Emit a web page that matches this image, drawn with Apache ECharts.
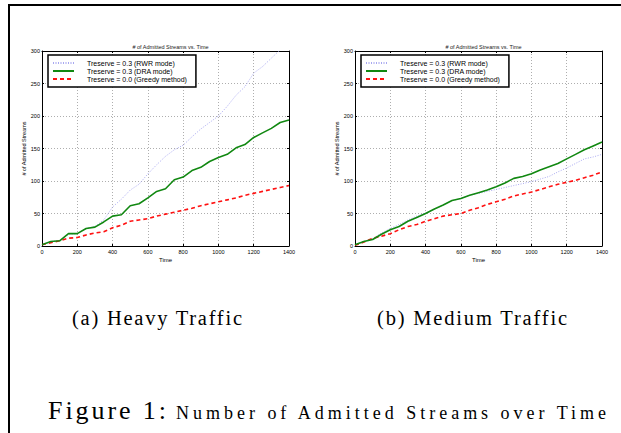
<!DOCTYPE html>
<html><head><meta charset="utf-8">
<script src="https://cdn.jsdelivr.net/npm/echarts@6/dist/echarts.min.js"></script>
<style>
html,body{margin:0;padding:0;background:#fff}
#wrap{position:relative;width:621px;height:433px;overflow:hidden}
#c{position:absolute;left:0;top:0;width:621px;height:433px}
.cap{position:absolute;white-space:nowrap;font-family:"Liberation Serif",serif;color:#000;line-height:1}
</style>
</head><body><div id="wrap"><div id="c"></div></div>
<script>
const times = [0,50,100,150,200,250,300,350,400,450,500,550,600,650,700,750,800,850,900,950,1000,1050,1100,1150,1200,1250,1300,1350,1400];
const seriesNames = ['Treserve = 0.3 (RWR mode)','Treserve = 0.3 (DRA mode)','Treserve = 0.0 (Greedy method)'];
const heavyRWR    = [2,7,8,18,19,27,30,40,60,72,86,95,111,125,138,148,155,168,180,190,200,215,232,245,266,276,289,302,314];
const heavyDRA    = [2,7,8,19,19,27,29,37,46,48,62,65,74,84,88,102,106,116,121,130,136,141,151,156,167,174,181,190,194];
const heavyGreedy = [2,5,8,12,13,17,20,22,28,32,38,40,42,46,49,52,55,58,62,65,68,71,74,78,81,84,87,90,93];
const medRWR      = [2,7,11,20,27,33,40,46,51,57,63,70,73,78,81,84,87,90,93,96,99,103,107,114,120,127,134,137,141];
const medDRA      = [2,7,10,18,25,30,38,44,50,57,63,70,73,78,82,86,91,97,104,107,111,117,122,127,134,141,148,154,160];
const medGreedy   = [1,6,12,15,19,25,30,33,38,42,46,48,50,55,59,64,68,72,77,80,83,87,91,95,98,101,105,109,114];
const xTicks = [0,200,400,600,800,1000,1200,1400];
const yTicks = [0,50,100,150,200,250,300];
const chartTitle = '# of Admitted Streams vs. Time';
const xName = 'Time', yName = '# of Admitted Streams';
const captions = ['(a) Heavy Traffic','(b) Medium Traffic'];
const figLabel = 'Figure 1:', figText = 'Number of Admitted Streams over Time';

const FONT = 'Liberation Sans';
const grids = [{left:42,top:51,width:247,height:195},{left:355,top:51,width:247,height:195}];
const styles = [
  {color:'#a8a8f0', type:[1,1.5], width:1},
  {color:'#118811', type:'solid', width:1.6},
  {color:'#ff1111', type:[4,3], width:1.6}
];
const datasets = [[heavyRWR,heavyDRA,heavyGreedy],[medRWR,medDRA,medGreedy]];

const xAxes=[], yAxes=[], series=[], legends=[], titles=[];
grids.forEach((g,i)=>{
  const gl = {show:true,lineStyle:{color:'#999',type:[1,2],width:0.8}};
  const tick = {show:true,inside:true,length:2,lineStyle:{color:'#000'}};
  const line = {show:true,onZero:false,lineStyle:{color:'#000',width:1}};
  xAxes.push({type:'value',gridIndex:i,min:xTicks[0],max:xTicks[xTicks.length-1],interval:xTicks[1]-xTicks[0],
    name:xName,nameLocation:'middle',nameGap:11,
    nameTextStyle:{fontFamily:FONT,fontSize:6,color:'#000'},
    axisLine:line,axisTick:tick,
    axisLabel:{fontFamily:FONT,fontSize:5.5,color:'#000',margin:3,formatter:v=>String(v)},splitLine:gl});
  xAxes.push({type:'value',gridIndex:i,position:'top',min:xTicks[0],max:xTicks[xTicks.length-1],interval:xTicks[1]-xTicks[0],
    axisLine:line,axisTick:tick,axisLabel:{show:false},splitLine:{show:false}});
  yAxes.push({type:'value',gridIndex:i,min:yTicks[0],max:yTicks[yTicks.length-1],interval:yTicks[1]-yTicks[0],
    name:yName,nameLocation:'middle',nameGap:14,
    nameTextStyle:{fontFamily:FONT,fontSize:5.5,color:'#000'},
    axisLine:line,axisTick:tick,
    axisLabel:{fontFamily:FONT,fontSize:5.5,color:'#000',margin:2,formatter:v=>String(v)},splitLine:gl});
  yAxes.push({type:'value',gridIndex:i,position:'right',min:yTicks[0],max:yTicks[yTicks.length-1],interval:yTicks[1]-yTicks[0],
    axisLine:line,axisTick:tick,axisLabel:{show:false},splitLine:{show:false}});
  datasets[i].forEach((vals,k)=>{
    series.push({name:seriesNames[k],type:'line',xAxisIndex:i*2,yAxisIndex:i*2,symbol:'none',clip:true,
      data:times.map((t,j)=>[t,vals[j]]),lineStyle:styles[k],itemStyle:{color:styles[k].color},z:k===1?5:3});
  });
  legends.push({show:true,orient:'vertical',left:g.left+6,top:55,itemGap:0,itemWidth:21,itemHeight:8,
    padding:[4,9,4,4],borderColor:'#000',borderWidth:1.5,backgroundColor:'#fff',borderRadius:0,
    itemStyle:{opacity:0},
    textStyle:{fontFamily:FONT,fontSize:7,lineHeight:8,color:'#000',padding:[0,0,0,8]},data:seriesNames,selectedMode:false});
  titles.push({text:chartTitle,left:g.left+g.width/2,top:39,textAlign:'center',
    textStyle:{fontFamily:FONT,fontSize:5.5,fontWeight:'normal',color:'#222'}});
});

const chart = echarts.init(document.getElementById('c'),null,{renderer:'svg'});
chart.setOption({
  animation:false,
  title:titles,
  grid:grids,
  xAxis:xAxes, yAxis:yAxes,
  legend:legends,
  series:series,
  graphic:[
    {type:'line',shape:{x1:9,y1:5,x2:621,y2:5},style:{stroke:'#000',lineWidth:2}},
    {type:'line',shape:{x1:9,y1:4,x2:9,y2:433},style:{stroke:'#000',lineWidth:2}}
  ]
});

// Caption texts (HTML), spaced to span their measured widths in the reference
const wrap = document.getElementById('wrap');
function placeText(text, size, left, width, centerY){
  const el = document.createElement('div');
  el.className='cap';
  el.textContent=text;
  el.style.fontSize=size+'px';
  wrap.appendChild(el);
  const w = el.getBoundingClientRect().width;
  const sp = (width - w)/Math.max(1,text.length-1);
  el.style.letterSpacing = sp+'px';
  el.style.left = left+'px';
  el.style.top = (centerY - el.getBoundingClientRect().height/2)+'px';
}
placeText(captions[0], 20.5, 72, 170, 318);
placeText(captions[1], 20.5, 377, 190, 318);
placeText(figLabel, 26, 48, 118, 411);
placeText(figText, 18, 176, 430, 413);
</script></body></html>
